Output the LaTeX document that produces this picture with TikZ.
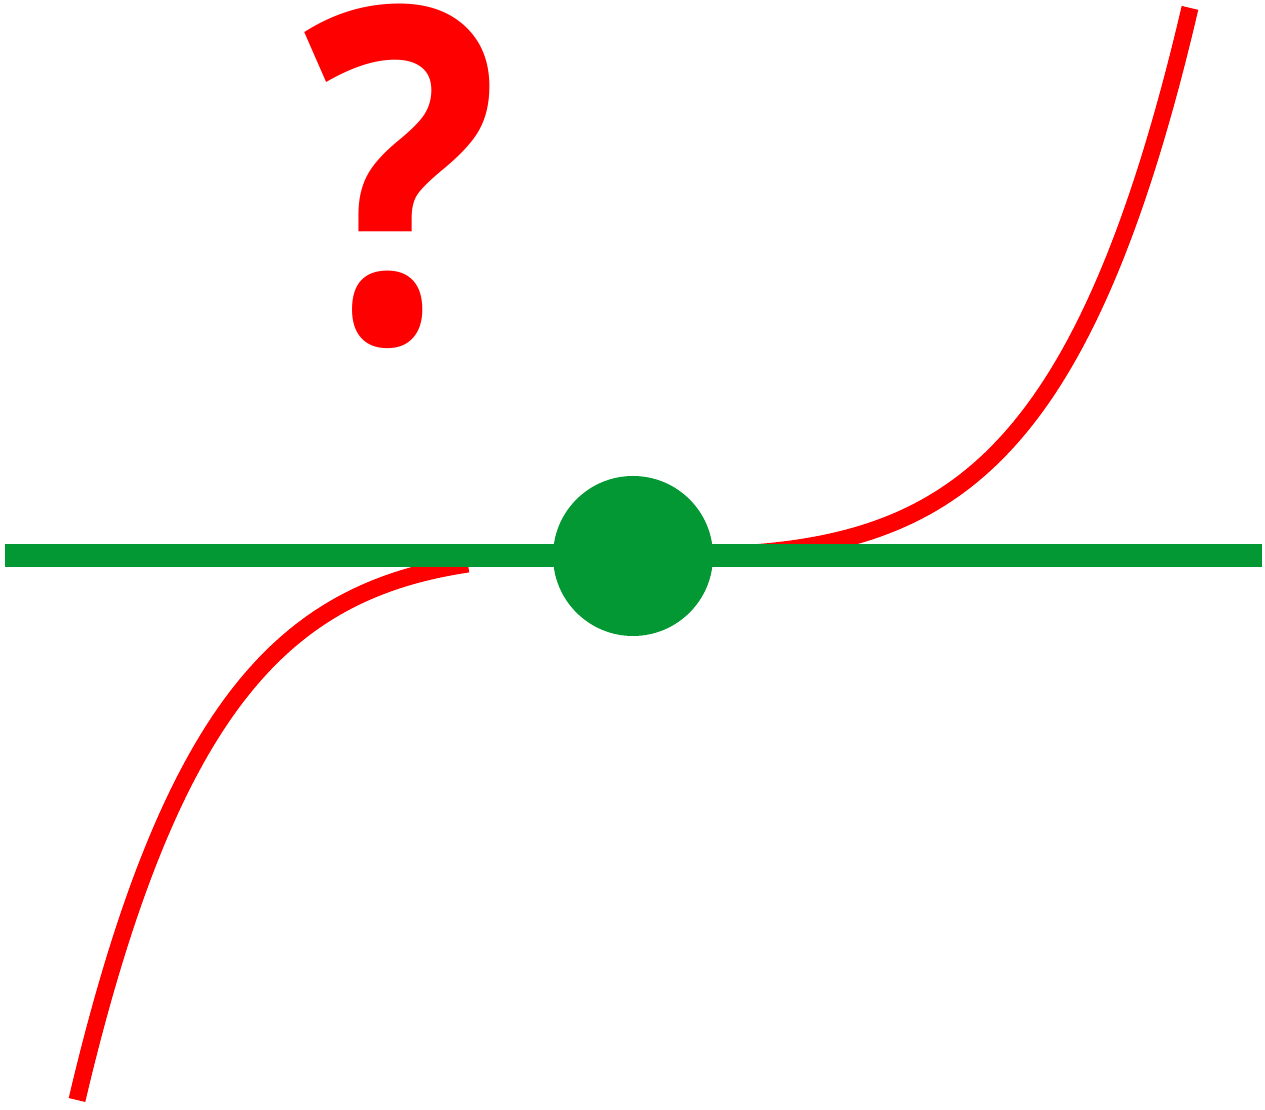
\documentclass[tikz,border=0pt]{standalone}
\usepackage{fontspec}
\newfontfamily\qfont{Open Sans}
\usepackage{tikz}
\usetikzlibrary{positioning,calc}
\definecolor{CurveRed}{RGB}{255,0,0}
\definecolor{LineGreen}{RGB}{4,152,52}
\tikzset{
  curve/.style={draw=CurveRed,line width=0.17cm},
  axis/.style={draw=LineGreen,line width=0.23cm},
  pt/.style={circle,fill=LineGreen,inner sep=0pt,minimum size=1.6cm},
  ask/.style={text=CurveRed,inner sep=0pt,xscale=0.88,transform shape,
    font=\qfont\bfseries\fontsize{133}{133}\selectfont},
  declare function={cub(\t)=5.53+3.00*\t*\t*\t+2.44*\t*\t*\t*\t*\t*abs(\t);},
}
\begin{document}
\begin{tikzpicture}[scale=1]
\useasboundingbox (0,0) rectangle (12.65,11.09);
\coordinate (c) at (6.33,5.53);
\coordinate (l) at (0.05,5.53);
\coordinate (r) at (12.62,5.53);
\draw[curve] plot[domain=0.77:4.68,samples=80,smooth] (\x,{cub((\x-6.33)/5.56)});
\draw[curve] plot[domain=7.12:11.90,samples=80,smooth] (\x,{cub((\x-6.33)/5.56)});
\draw[axis] (l)--(r);
\node[pt] (p) at (c) {};
\node[ask,anchor=base] (q) at (4.02,7.66) {?};
\end{tikzpicture}
\end{document}
